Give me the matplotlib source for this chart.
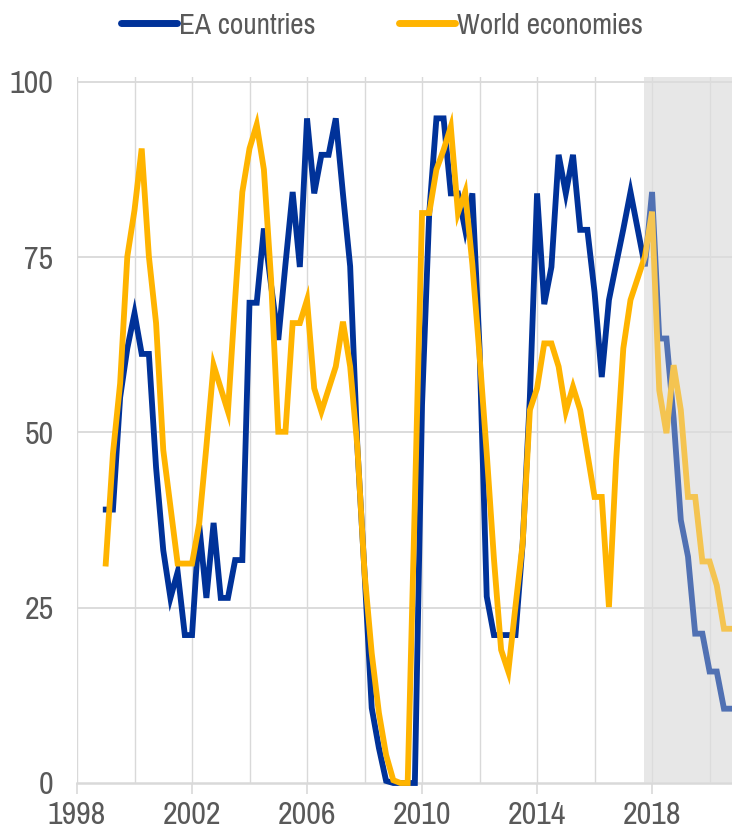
import matplotlib
matplotlib.use("Agg")
import matplotlib.pyplot as plt
from matplotlib import font_manager as fm
import numpy as np

names = set(f.name for f in fm.fontManager.ttflist)
narrow = None
for nm in ['Liberation Sans Narrow', 'Arial Narrow', 'Pragati Narrow', 'Archivo Narrow', 'Roboto Condensed']:
    if nm in names:
        narrow = nm
        break
fam = [narrow] if narrow else []
plt.rcParams['font.family'] = fam + ['Liberation Sans', 'DejaVu Sans']

start_year = 1999.0
ea_countries = [39, 39, 55, 62, 67, 61.2, 61.2, 45, 33.2, 26.4,
                30.1, 21.1, 21.1, 36.8, 26.4, 37.1, 26.4, 26.4, 31.8, 31.8,
                68.5, 68.5, 79.1, 71, 63.2, 74, 84.3, 73.6, 94.8, 84.1,
                89.6, 89.6, 94.8, 84, 73.7, 48, 30, 10.7, 5, 0.3,
                0, 0, 0, 0, 54, 81.3, 94.8, 94.8, 84.1, 84.1,
                78.9, 84.1, 62, 26.6, 21.1, 21.1, 21.1, 21.1, 34.2, 55,
                84.1, 68.3, 73.6, 89.6, 84.1, 89.6, 78.9, 78.9, 70, 57.9,
                68.9, 74, 79, 84.3, 79, 73.7, 84.3, 63.4, 63.4, 52,
                37.5, 32.3, 21.3, 21.3, 15.9, 15.9, 10.6, 10.6]
world_economies = [31.3, 47, 57, 75.1, 81.7, 90.5, 75.1, 65.6, 47.5, 39.4,
                   31.3, 31.3, 31.3, 37, 48, 59.6, 56.3, 53, 69, 84.3,
                   90.5, 93.9, 87.5, 71.8, 50.1, 50.1, 65.6, 65.6, 68.9, 56.3,
                   53, 56.2, 59.4, 65.8, 59.4, 48, 30, 18.5, 10, 4,
                   0.4, 0, 0, 40, 81.3, 81.3, 87.5, 90.3, 93.6, 81.3,
                   84.3, 74, 61, 47, 32, 19, 15.9, 25.2, 34.2, 53.2,
                   56.3, 62.7, 62.7, 59.4, 53, 56.5, 53.2, 47, 40.8, 40.8,
                   25.1, 46, 62, 68.9, 72, 75.1, 81.5, 56, 49.9, 59.6,
                   53.2, 40.8, 40.8, 31.6, 31.6, 28.2, 22, 22]
series_labels = ["EA countries", "World economies"]
x_tick_labels = ["1998", "2002", "2006", "2010", "2014", "2018"]
y_ticks = [0, 25, 50, 75, 100]
shade_start = 2017.72

x = start_year + 0.25 * np.arange(len(ea_countries))

BLUE = '#003299'
YELLOW = '#FFB400'
GRID = '#d9d9d9'
TXT = '#595959'

fig = plt.figure(figsize=(7.32, 8.39), dpi=100)
ax = fig.add_axes([77/732, 56/839, 655/732, 706/839])
xmin, xmax = 1998.0, 2020.78
ymin, ymax = 0, 100.7
ax.set_xlim(xmin, xmax)
ax.set_ylim(ymin, ymax)

for yr in range(1998, 2021, 2):
    ax.axvline(yr, color=GRID, lw=1.0, zorder=1)
for yv in y_ticks[1:]:
    ax.axhline(yv, color=GRID, lw=1.3, zorder=1)

ax.axvspan(shade_start, xmax + 1, facecolor='#ebebeb', edgecolor='none', zorder=0.8)

ax.plot(x, ea_countries, color=BLUE, lw=4.2, zorder=2, clip_on=False,
        solid_joinstyle='miter', label=series_labels[0])
ax.plot(x, world_economies, color=YELLOW, lw=4.2, zorder=2.1, clip_on=False,
        solid_joinstyle='miter', label=series_labels[1])

ax.axvspan(shade_start, xmax, facecolor='#e2e2e2', alpha=0.36, edgecolor='none', zorder=3)

for s in ['top', 'right', 'left']:
    ax.spines[s].set_visible(False)
ax.spines['bottom'].set_color(GRID)
ax.spines['bottom'].set_linewidth(1.8)
ax.spines['bottom'].set_zorder(1.5)

ax.set_xticks([int(t) for t in x_tick_labels])
ax.set_xticklabels(x_tick_labels)
ax.tick_params(axis='x', length=8, width=1.2, color=GRID, direction='out', pad=5,
               labelsize=25, labelcolor=TXT)
ax.set_yticks(y_ticks)
ax.set_yticklabels([str(v) for v in y_ticks])
ax.tick_params(axis='y', length=0, pad=17, labelsize=25, labelcolor=TXT)

h1 = plt.Line2D([], [], color=BLUE, lw=5, solid_capstyle='round')
h2 = plt.Line2D([], [], color=YELLOW, lw=5, solid_capstyle='round')
leg = fig.legend([h1, h2], series_labels, loc='center', bbox_to_anchor=(0.522, 0.970),
                 ncol=2, frameon=False, fontsize=23, handlelength=1.75, handletextpad=0.08,
                 columnspacing=2.6)
for t in leg.get_texts():
    t.set_color(TXT)

fig.savefig('out.png', dpi=100)
